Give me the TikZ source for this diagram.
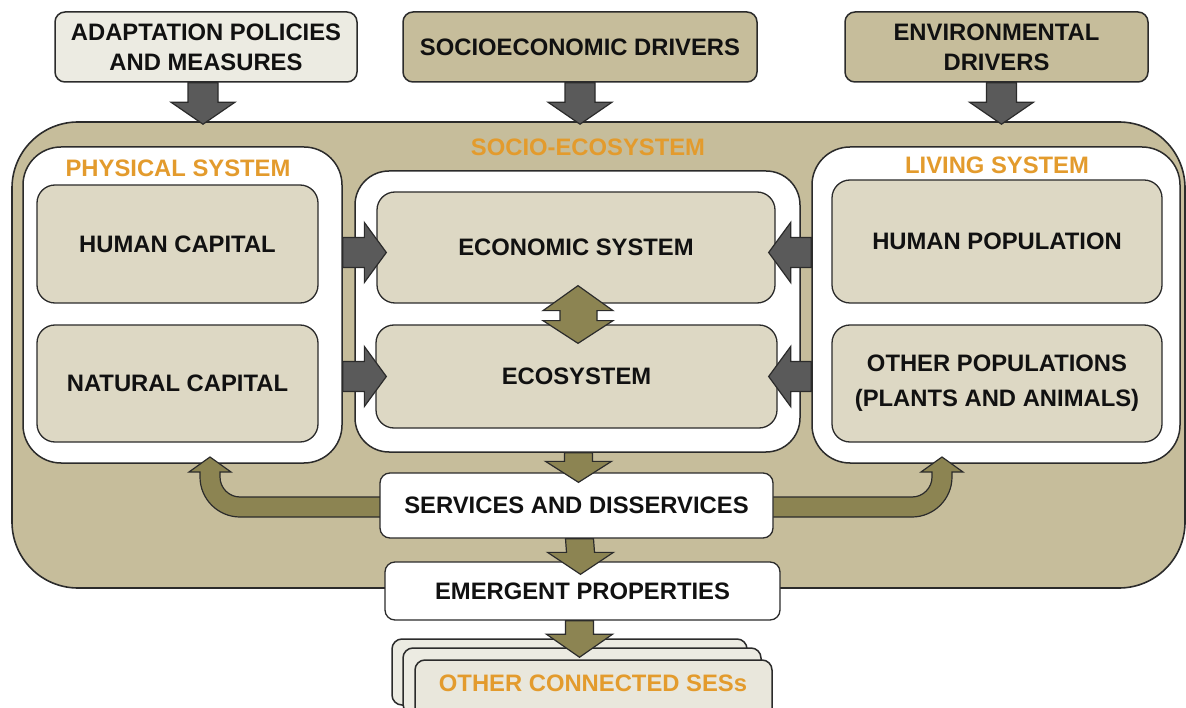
\documentclass[tikz,border=0pt]{standalone}
\usepackage{fontspec}
\setmainfont{Liberation Sans}
\usetikzlibrary{calc}
\definecolor{tanbg}{HTML}{C6BD9B}
\definecolor{boxtan}{HTML}{DDD8C4}
\definecolor{pale}{HTML}{ECEBE2}
\definecolor{paler}{HTML}{E9E7DC}
\definecolor{olive}{HTML}{8C8452}
\definecolor{darkarr}{HTML}{5A5A5A}
\definecolor{orng}{HTML}{E39B2D}
\definecolor{edgec}{HTML}{2B2B2B}
\definecolor{txt}{HTML}{111111}

% block arrows: style, start, tip, shaft half width, head half width, head length
\newcommand\BlockDown[6]{\draw[#1] ($(#2)+(-#4,0)$) -- ($(#3)+(-#4,-#6)$) -- ($(#3)+(-#5,-#6)$) -- (#3) -- ($(#3)+(#5,-#6)$) -- ($(#3)+(#4,-#6)$) -- ($(#2)+(#4,0)$) -- cycle;}
\newcommand\BlockRight[6]{\draw[#1] ($(#2)+(0,-#4)$) -- ($(#3)+(-#6,-#4)$) -- ($(#3)+(-#6,-#5)$) -- (#3) -- ($(#3)+(-#6,#5)$) -- ($(#3)+(-#6,#4)$) -- ($(#2)+(0,#4)$) -- cycle;}
\newcommand\BlockLeft[6]{\draw[#1] ($(#2)+(0,-#4)$) -- ($(#3)+(#6,-#4)$) -- ($(#3)+(#6,-#5)$) -- (#3) -- ($(#3)+(#6,#5)$) -- ($(#3)+(#6,#4)$) -- ($(#2)+(0,#4)$) -- cycle;}

\begin{document}
\begin{tikzpicture}[x=1pt,y=-1pt,
  every node/.style={font=\fontsize{23.8}{30}\selectfont\bfseries, text=txt, inner sep=0pt, align=center},
  outerbox/.style={draw=edgec, line width=1.6pt, fill=tanbg, rounded corners=66pt},
  whitebox/.style={draw=edgec, line width=1.5pt, fill=white, rounded corners=38pt},
  innerbox/.style={draw=edgec, line width=1.3pt, fill=boxtan, rounded corners=18pt},
  topbox/.style={draw=edgec, line width=1.5pt, rounded corners=10pt},
  flowbox/.style={draw=edgec, line width=1.3pt, fill=white, rounded corners=10pt},
  stackbox/.style={draw=edgec, line width=1.5pt, rounded corners=10pt},
  darkarrow/.style={draw=edgec, line width=1.2pt, fill=darkarr},
  olivearrow/.style={draw=edgec, line width=1.2pt, fill=olive},
  orangelabel/.style={text=orng}]
\useasboundingbox (0,0) rectangle (1186,708);
\begin{scope}
\clip (0,0) rectangle (1186,708);

% top driver boxes
\node[topbox, fill=pale, minimum width=302pt, minimum height=70pt] (adapt) at (206,47) {ADAPTATION POLICIES\\AND MEASURES};
\node[topbox, fill=tanbg, minimum width=354pt, minimum height=70pt] (socdrv) at (580,47) {SOCIOECONOMIC DRIVERS};
\node[topbox, fill=tanbg, minimum width=303pt, minimum height=70pt] (envdrv) at (996.5,47) {ENVIRONMENTAL\\DRIVERS};

% socio-ecosystem
\node[outerbox, minimum width=1173pt, minimum height=466pt] (ses) at (598.5,355) {};
\node[orangelabel] (seslabel) at (588,147) {SOCIO-ECOSYSTEM};

% three systems
\node[whitebox, minimum width=319pt, minimum height=316pt] (phys) at (182.5,305) {};
\node[whitebox, rounded corners=34pt, minimum width=445pt, minimum height=281pt] (mid) at (577.5,311.5) {};
\node[whitebox, minimum width=368pt, minimum height=316pt] (liv) at (996,305) {};
\node[orangelabel] (physlabel) at (178,168) {PHYSICAL SYSTEM};
\node[orangelabel] (livlabel) at (997,165) {LIVING SYSTEM};

\node[innerbox, minimum width=281pt, minimum height=118pt] (hcap) at (177.5,244) {HUMAN CAPITAL};
\node[innerbox, minimum width=281pt, minimum height=117pt] (ncap) at (177.5,383.5) {NATURAL CAPITAL};
\node[innerbox, minimum width=398pt, minimum height=111pt] (econ) at (576,247.5) {ECONOMIC SYSTEM};
\node[innerbox, minimum width=401pt, minimum height=103pt] (eco) at (576.5,376.5) {ECOSYSTEM};
\node[innerbox, minimum width=330pt, minimum height=123pt] (hpop) at (997,241.5) {HUMAN POPULATION};
\node[innerbox, minimum width=330pt, minimum height=117pt, font=\fontsize{23.8}{35}\selectfont\bfseries] (opop) at (997,383.5) {OTHER POPULATIONS\\(PLANTS AND ANIMALS)};

% curved feedback arrows (behind services box)
\draw[olivearrow] ($(ses.west |- 0,497)+(380,0)$) -- (240,497)
  .. controls (229,497) and (220,488) .. (220,477) -- (220,472) -- (231,472) -- (210,457) -- (189,472) -- (200,472) -- (200,477)
  .. controls (200,499) and (218,517) .. (240,517) -- ($(ses.west |- 0,517)+(380,0)$) -- cycle;
\draw[olivearrow] ($(ses.west |- 0,497)+(750,0)$) -- (912,497)
  .. controls (923,497) and (932,488) .. (932,477) -- (932,472) -- (921,472) -- (942,457) -- (963,472) -- (952,472) -- (952,477)
  .. controls (952,499) and (934,517) .. (912,517) -- ($(ses.west |- 0,517)+(750,0)$) -- cycle;

% services, emergent
\node[flowbox, minimum width=393pt, minimum height=65pt] (serv) at (576.5,505.5) {SERVICES AND DISSERVICES};
\node[flowbox, minimum width=395pt, minimum height=58pt] (emer) at (582.5,591) {EMERGENT PROPERTIES};

% other connected SESs (stack)
\node[stackbox, fill=pale, minimum width=355pt, minimum height=66pt] (sesback) at (569.5,672) {};
\node[stackbox, fill=pale, minimum width=358pt, minimum height=66pt] (sesmid) at (582,681) {};
\node[stackbox, fill=paler, minimum width=357pt, minimum height=66pt] (sesfront) at (593.5,693) {};
\node[orangelabel] (seslab2) at (593,683) {OTHER CONNECTED SESs};

% driver arrows
\coordinate (a1s) at ($(adapt.south)+(-3,0)$);
\coordinate (a1t) at ($(adapt.south |- ses.north)+(-3,3)$);
\BlockDown{darkarrow}{a1s}{a1t}{15}{32}{22}
\coordinate (a2s) at (socdrv.south);
\coordinate (a2t) at ($(socdrv.south |- ses.north)+(0,3)$);
\BlockDown{darkarrow}{a2s}{a2t}{15}{32}{22}
\coordinate (a3s) at ($(envdrv.south)+(5,0)$);
\coordinate (a3t) at ($(envdrv.south |- ses.north)+(5,3)$);
\BlockDown{darkarrow}{a3s}{a3t}{15}{32}{22}

% physical -> middle
\coordinate (p1s) at ($(phys.east |- econ.center)+(0,5)$);
\coordinate (p1t) at ($(econ.west |- p1s)+(10,0)$);
\BlockRight{darkarrow}{p1s}{p1t}{15}{30}{22}
\coordinate (p2s) at (phys.east |- eco.center);
\coordinate (p2t) at ($(eco.west |- p2s)+(11,0)$);
\BlockRight{darkarrow}{p2s}{p2t}{15}{30}{22}
% living -> middle
\coordinate (l1s) at ($(liv.west |- econ.center)+(0,5)$);
\coordinate (l1t) at ($(econ.east |- l1s)+(-7,0)$);
\BlockLeft{darkarrow}{l1s}{l1t}{15}{30}{22}
\coordinate (l2s) at (liv.west |- eco.center);
\coordinate (l2t) at ($(eco.east |- l2s)+(-9,0)$);
\BlockLeft{darkarrow}{l2s}{l2t}{15}{30}{22}

% economic <-> ecosystem
\coordinate (dtop) at ($(econ.south)+(2,-18)$);
\coordinate (dbot) at ($(eco.north)+(1.5,19)$);
\draw[olivearrow] (dtop) -- ($(dtop)+(35,25)$) -- ($(dtop)+(19,25)$) -- ($(dtop)+(19,35)$) -- ($(dtop)+(35,35)$) -- (dbot)
  -- ($(dtop)+(-35,35)$) -- ($(dtop)+(-18,35)$) -- ($(dtop)+(-18,25)$) -- ($(dtop)+(-35,25)$) -- cycle;

% flow arrows down
\coordinate (f1s) at ($(mid.south)+(1,0)$);
\coordinate (f1t) at ($(serv.north)+(2,10)$);
\BlockDown{olivearrow}{f1s}{f1t}{14}{33}{21}
\coordinate (f2s) at ($(serv.south)+(3,0)$);
\coordinate (f2t) at ($(emer.north)+(-2,13)$);
\BlockDown{olivearrow}{f2s}{f2t}{14}{33}{22}
\coordinate (f3s) at ($(emer.south)+(-3,0)$);
\coordinate (f3t) at ($(sesfront.north)+(-14,-2)$);
\BlockDown{olivearrow}{f3s}{f3t}{14}{33}{23}
\end{scope}
\end{tikzpicture}
\end{document}
